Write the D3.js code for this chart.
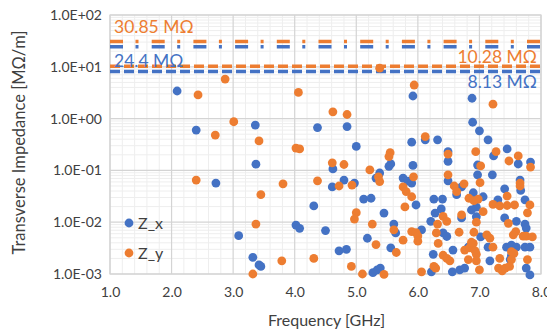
<!DOCTYPE html>
<html>
<head>
<meta charset="utf-8">
<script src="https://cdn.jsdelivr.net/npm/d3@7"></script>
<style>
  body { margin: 0; background: #fff; }
  text { font-family: Lato, "Open Sans", sans-serif; fill: #404040; }
</style>
</head>
<body>
<div id="content"></div>
<script>
// frequency [GHz] / impedance [MOhm/m]
var zxFreq = [2.09,2.40,3.36,4.37,4.85,5.92,6.88,6.89,7.00,7.14,
  5.90,6.12,6.32,5.00,6.49,6.49,7.23,7.45,7.63,7.83,
  5.53,5.56,4.62,5.92,3.37,5.38,5.32,4.80,4.61,4.97,
  5.12,5.24,4.31,5.76,5.84,5.90,5.97,5.45,5.61,5.64,
  4.02,4.08,4.50,5.18,4.72,4.84,5.56,5.27,5.34,5.39,
  2.72,3.09,3.32,3.42,3.45,6.97,6.97,7.21,6.49,6.71,
  6.63,6.90,7.06,6.26,6.40,7.41,7.67,7.66,7.30,7.74,
  6.95,6.38,6.28,6.21,6.06,6.41,6.47,6.71,6.95,7.02,
  7.14,7.41,7.60,7.74,7.76,7.44,7.52,7.60,7.74,7.82,
  6.82,6.57,6.25,6.22,6.56,6.68,6.76,7.17,7.52,7.76,
  7.82,6.87,7.50];
var zxImp = [3.41,0.60,0.75,0.67,0.70,2.73,2.47,0.85,0.58,0.39,
  0.35,0.39,0.39,0.29,0.23,0.15,0.19,0.26,0.133,0.145,
  0.12,0.133,0.107,0.125,0.132,0.089,0.071,0.065,0.048,0.057,
  0.028,0.029,0.0206,0.071,0.062,0.057,0.0215,0.015,0.0092,0.0062,
  0.0088,0.0076,0.0069,0.0049,0.0028,0.0030,0.0032,0.00106,0.0012,0.0013,
  0.057,0.0055,0.0021,0.0015,0.0014,0.127,0.082,0.082,0.063,0.048,
  0.034,0.037,0.031,0.028,0.028,0.044,0.041,0.065,0.027,0.027,
  0.0195,0.018,0.015,0.0104,0.0071,0.0062,0.0053,0.0121,0.0128,0.0052,
  0.0033,0.0121,0.0104,0.0092,0.0077,0.0033,0.0036,0.0033,0.0033,0.0033,
  0.0033,0.0029,0.0024,0.0011,0.0011,0.0012,0.0013,0.0018,0.0023,0.0013,
  0.00096,0.0172,0.0019];

var zyFreq = [2.87,2.43,4.06,3.01,2.71,3.42,4.62,4.85,5.38,5.94,
  7.22,6.12,4.02,4.08,6.94,7.27,7.63,7.48,7.83,5.55,
  5.53,4.61,4.80,6.49,7.02,5.22,5.36,5.38,4.37,4.72,
  4.93,5.76,5.81,5.93,5.90,5.79,2.40,3.81,3.45,3.37,
  3.79,3.32,5.00,4.97,5.26,5.61,5.90,5.97,5.76,5.32,
  5.65,4.31,4.92,5.10,5.45,6.49,7.01,6.59,6.63,6.75,
  6.83,6.91,6.98,7.45,7.66,7.66,7.22,7.33,7.45,7.57,
  7.82,7.06,7.78,6.41,6.47,6.32,6.00,6.00,6.30,6.33,
  6.71,6.95,6.91,6.67,7.12,7.17,7.22,7.47,7.59,7.55,
  7.71,7.76,7.86,7.52,7.56,6.76,6.84,6.90,6.93,6.95,
  6.41,6.47,6.52,6.29,6.06,7.00,6.95,7.33,7.52,7.31,
  7.37,7.42,7.49,7.78,6.82,6.26,6.87];
var zyImp = [5.8,2.86,3.2,0.87,0.48,0.37,1.35,1.2,9.4,4.45,
  1.9,0.45,0.27,0.26,0.23,0.23,0.19,0.152,0.116,0.22,
  0.185,0.14,0.13,0.207,0.122,0.102,0.075,0.061,0.063,0.050,
  0.052,0.048,0.039,0.075,0.031,0.0197,0.065,0.055,0.034,0.0092,
  0.0018,0.0010,0.0153,0.0115,0.0092,0.0071,0.0066,0.0063,0.0045,0.0037,
  0.0026,0.0020,0.0014,0.0010,0.00098,0.082,0.058,0.050,0.039,0.055,
  0.029,0.026,0.028,0.032,0.057,0.050,0.022,0.0206,0.021,0.0215,
  0.0215,0.016,0.0152,0.013,0.0104,0.0092,0.0054,0.0043,0.0062,0.0039,
  0.0138,0.0100,0.0064,0.0064,0.0057,0.0049,0.0033,0.0095,0.0066,0.0057,
  0.0054,0.0054,0.0052,0.0027,0.0025,0.0029,0.0032,0.0039,0.0028,0.0024,
  0.0023,0.0020,0.0018,0.0013,0.0011,0.0012,0.0018,0.0020,0.0019,0.0013,
  0.00115,0.0013,0.0014,0.0019,0.0019,0.0014,0.0041];

// horizontal reference levels
var refValues = [30.85, 24.4, 10.28, 8.13];
var refLabels = ["30.85 MΩ", "24.4 MΩ", "10.28 MΩ", "8.13 MΩ"];
var refSeries = ["Z_y", "Z_x", "Z_y", "Z_x"];

var xTicks = [1, 2, 3, 4, 5, 6, 7, 8];
var yTicks = [1e-3, 1e-2, 1e-1, 1, 10, 100];
var seriesNames = ["Z_x", "Z_y"];

var width = 547, height = 329;
var margin = { left: 110, right: 6, top: 15, bottom: 55 };
var colors = { "Z_x": "#4472C4", "Z_y": "#ED7D31" };

var svg = d3.select("#content").append("svg")
  .attr("width", width)
  .attr("height", height);

var x = d3.scaleLinear().domain([1, 8]).range([margin.left, width - margin.right]);
var y = d3.scaleLog().domain([1e-3, 100]).range([height - margin.bottom, margin.top]);

var plotW = x.range()[1] - x.range()[0];
var plotH = y.range()[0] - y.range()[1];

// minor grid
var xMinor = d3.range(1, 8.0001, 0.2).filter(function (d) { return Math.abs(d - Math.round(d)) > 1e-6; });
var yMinor = [];
yTicks.slice(0, -1).forEach(function (t) {
  for (var k = 2; k < 10; k++) yMinor.push(t * k);
});

var grid = svg.append("g");
grid.selectAll(".xminor").data(xMinor).enter().append("line")
  .attr("x1", x).attr("x2", x)
  .attr("y1", y.range()[1]).attr("y2", y.range()[0])
  .attr("stroke", "#eeeeee").attr("stroke-width", 1);
grid.selectAll(".yminor").data(yMinor).enter().append("line")
  .attr("x1", x.range()[0]).attr("x2", x.range()[1])
  .attr("y1", y).attr("y2", y)
  .attr("stroke", "#eeeeee").attr("stroke-width", 1);
grid.selectAll(".xmajor").data(xTicks).enter().append("line")
  .attr("x1", x).attr("x2", x)
  .attr("y1", y.range()[1]).attr("y2", y.range()[0])
  .attr("stroke", "#d4d4d4").attr("stroke-width", 1.2);
grid.selectAll(".ymajor").data(yTicks).enter().append("line")
  .attr("x1", x.range()[0]).attr("x2", x.range()[1])
  .attr("y1", y).attr("y2", y)
  .attr("stroke", "#d4d4d4").attr("stroke-width", 1.2);

svg.append("rect")
  .attr("x", x.range()[0]).attr("y", y.range()[1])
  .attr("width", plotW).attr("height", plotH)
  .attr("fill", "none").attr("stroke", "#d4d4d4").attr("stroke-width", 1.2);

// axes (labels only, Excel style)
function sciFormat(d) {
  var e = Math.round(Math.log10(d));
  return "1.0E" + (e < 0 ? "-" : "+") + String(Math.abs(e)).padStart(2, "0");
}

var yAxis = svg.append("g")
  .attr("transform", "translate(" + (x.range()[0] - 8) + ",0)")
  .call(d3.axisLeft(y).tickValues(yTicks).tickFormat(sciFormat).tickSize(0).tickPadding(0));
yAxis.select(".domain").remove();
yAxis.selectAll("text").style("font-size", "14px").style("fill", "#404040");

var xAxis = svg.append("g")
  .attr("transform", "translate(0," + (y.range()[0] + 13) + ")")
  .call(d3.axisBottom(x).tickValues(xTicks).tickFormat(d3.format(".1f")).tickSize(0).tickPadding(0));
xAxis.select(".domain").remove();
xAxis.selectAll("text").style("font-size", "14px").style("fill", "#404040");

svg.append("text")
  .attr("x", (x.range()[0] + x.range()[1]) / 2 + 1)
  .attr("y", 326)
  .attr("text-anchor", "middle")
  .style("font-size", "16px")
  .text("Frequency [GHz]");

svg.append("text")
  .attr("transform", "translate(25," + (y.range()[1] + plotH / 2 - 2) + ") rotate(-90)")
  .attr("text-anchor", "middle")
  .style("font-size", "16.5px")
  .text("Transverse Impedance [MΩ/m]");

// reference lines
var refs = refValues.map(function (v, i) {
  return { value: v, label: refLabels[i], series: refSeries[i], top: i < 2 };
});

svg.selectAll(".ref").data(refs).enter().append("line")
  .attr("x1", x.range()[0]).attr("x2", x.range()[1])
  .attr("y1", function (d) { return y(d.value); })
  .attr("y2", function (d) { return y(d.value); })
  .attr("stroke", function (d) { return colors[d.series]; })
  .attr("stroke-width", 3.5)
  .attr("stroke-dasharray", function (d) { return d.top ? "13,12.5,3,13.2" : "10,4"; });

var labelOffset = [-8.5, 20.5, -3, 16.5];
svg.selectAll(".ref-label").data(refs).enter().append("text")
  .attr("x", function (d) { return d.top ? x.range()[0] + 4 : x.range()[1] - 4; })
  .attr("y", function (d, i) { return y(d.value) + labelOffset[i]; })
  .attr("text-anchor", function (d) { return d.top ? "start" : "end"; })
  .style("font-size", "17.5px")
  .style("fill", function (d) { return colors[d.series]; })
  .text(function (d) { return d.label; });

// scatter points
var zx = zxFreq.map(function (f, i) { return [f, zxImp[i]]; });
var zy = zyFreq.map(function (f, i) { return [f, zyImp[i]]; });

function drawSeries(data, color) {
  svg.append("g").selectAll("circle")
    .data(data)
    .enter().append("circle")
    .attr("cx", function (d) { return x(d[0]); })
    .attr("cy", function (d) { return y(d[1]); })
    .attr("r", 4.4)
    .attr("fill", color);
}
drawSeries(zx, colors["Z_x"]);
drawSeries(zy, colors["Z_y"]);

// legend
var legend = svg.append("g").attr("transform", "translate(129,223)");
seriesNames.forEach(function (name, i) {
  var g = legend.append("g").attr("transform", "translate(0," + (i * 30) + ")");
  g.append("circle").attr("r", 4.4).attr("fill", colors[name]);
  g.append("text").attr("x", 9).attr("y", 5.5).style("font-size", "16px").text(name);
});
</script>
</body>
</html>
